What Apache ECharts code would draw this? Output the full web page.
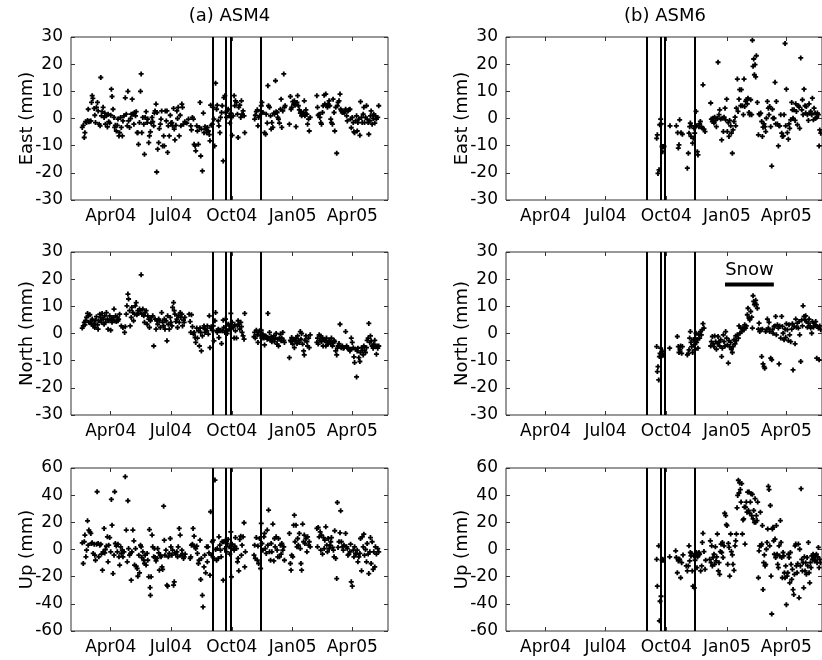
<!DOCTYPE html>
<html>
<head>
<meta charset="utf-8">
<script src="https://cdn.jsdelivr.net/npm/echarts@6/dist/echarts.min.js"></script>
<style>html,body{margin:0;padding:0;background:#fff}#c{width:822px;height:660px}</style>
</head>
<body>
<div id="c"></div>
<script>
// x values are days counted from 1 Jan 2004 (day 0)
const tickDays = [91, 182, 274, 366, 456];
const tickLabels = ['Apr04', 'Jul04', 'Oct04', 'Jan05', 'Apr05'];
const eventDays = [244.5, 265, 272, 317.5];
const snowSpan = [363, 437];
const snowLevel = 18;
const panelTitles = ['(a) ASM4', '(b) ASM6'];
const compNames = ['East (mm)', 'North (mm)', 'Up (mm)'];

const asm4East = [[48,-3.3],[49.5,-2.5],[51,-7.0],[52,-5.2],[53,-1.2],[54.5,-1.5],[56,-0.7],[57,3.4],[58,-1.2],[59.5,-1.0],[61,-0.9],[62,5.9],[63,8.4],[64,7.4],[66,3.7],[67,1.2],[68,-1.5],[69.5,4.1],[71,5.9],[72,2.8],[73.5,-2.1],[75,-2.7],[76,15.1],[77,1.0],[78,2.5],[79.5,4.1],[81,0.4],[82,2.0],[83,-2.1],[84.5,1.0],[86,-3.1],[87,1.6],[88,-1.2],[89.5,-1.7],[91,1.2],[92,10.8],[93,8.1],[94.5,3.4],[96,0.4],[97,-3.3],[98,-2.5],[99.5,-4.6],[101,-2.5],[102,-0.2],[103.5,-6.4],[104.5,-5.2],[106,0.4],[107,-3.3],[108.5,-6.4],[109.5,-0.9],[111,1.0],[113,7.6],[114.5,1.6],[116,-2.7],[117,10.0],[118,-0.9],[119.5,-3.3],[121,0],[122,1.6],[123.5,7.1],[124.5,1.6],[126,-2.1],[127,2.2],[128.5,1.0],[129.5,2.5],[131,-5.2],[132,-5.2],[133,-9.5],[134.5,-1.5],[136,10.0],[137,16.4],[138,-5.2],[139.5,0.4],[141,-2.1],[142,-13.2],[143,0.4],[144.5,2.5],[146,-1.5],[147,-0.2],[148.5,-8.9],[149.5,-6.4],[151,-4.9],[152,-1.7],[153.5,0.4],[154.5,-1.2],[156,-2.7],[157,2.0],[158,2.8],[159.5,5.3],[160.5,-19.7],[161,2.2],[162,-11.3],[163.5,-8.9],[164.5,-3.7],[166,-2.1],[167,-0.2],[168,2.8],[169.5,-10.1],[171,-6.4],[172,-10.1],[173.5,2.8],[175,-0.9],[176,2.8],[177,-12.5],[178,-2.7],[179.5,-6.4],[181,1.2],[182,-1.7],[183.5,-1.5],[184.5,-2.7],[186,3.7],[187,-3.9],[188,-7.9],[189.5,-2.5],[191,2.8],[192,0],[193,4.1],[194.5,-6.4],[196,1.2],[197,-2.7],[198.5,5.3],[199.5,4.1],[201,-2.1],[203,-1.2],[206,-1.7],[208.5,-0.2],[212,-2.7],[213,-4.2],[214.5,0.4],[216,-0.2],[217,-9.5],[218.5,-10.1],[219.5,-11.9],[221,-2.7],[222,-4.6],[223.5,-9.5],[225,-3.3],[226,5.9],[227,-13.8],[228,-3.9],[229.5,-19.3],[231,2.0],[232,-5.2],[233.5,-3.0],[234.5,-3.9],[236,-5.2],[237,-3.3],[238.5,-4.6],[240,-5.9],[241,-8.2],[242,4.9],[243,-2.5],[244.5,-2.1],[246,4.1],[247,-0.2],[248,-10.1],[249.5,13.0],[251,3.4],[252,4.9],[253.5,-0.9],[254.5,-2.7],[256,-5.2],[257,0.4],[258.5,2.2],[259.5,4.7],[261,-15.6],[262,7.7],[263.5,8.4],[264.5,2.2],[266,0.4],[267,2.8],
[268.5,3.4],[270,1.0],[271,-1.7],[272.5,2.0],[273.5,0.4],[274.5,-6.2],[276,1.0],[277.5,8.4],[278.5,4.7],[279.5,6.5],[281,5.9],[282.5,1.6],[283.5,-7.0],[284.5,4.1],[286,4.9],[287.5,0.4],[288.5,6.5],[289.5,1.6],[291,2.8],[292.5,1.0],[293.5,-5.2],[308.5,-0.2],[309.5,1.2],[311,2.5],[312.5,3.2],[313.5,-2.7],[314.5,0.4],[316,1.0],[317.5,2.8],[318.5,4.7],[319.5,5.9],[321,2.2],[323.5,-5.2],[325,-5.8],[326,1.6],[327.5,-1.7],[328.5,12.1],[329.5,4.7],[331,4.1],[332.5,1.0],[333.5,-3.9],[334.5,-1.5],[336,-3.3],[337.5,2.0],[338.5,1.6],[340,13.9],[341,2.5],[342.5,2.2],[343.5,0.4],[344.5,-0.2],[346,-1.7],[347.5,3.4],[348.5,7.1],[349.5,-3.3],[351,2.8],[352.5,16.4],[353.5,4.1],[354.5,4.7],[361,-2.1],[362.5,8.1],[363.5,3.4],[364.5,4.1],[366,6.2],[367.5,5.3],[368.5,6.5],[369.5,4.9],[371,-3.0],[372.5,5.9],[373.5,8.4],[374.5,4.7],[376,3.2],[377.5,2.0],[378.5,2.5],[379.5,1.0],[381,1.6],[382.5,2.2],[383.5,6.5],[384.5,1.0],[386,3.2],[387.5,1.6],[388.5,-2.1],[390,-0.2],[391,-4.6],[392.5,0.4],[402.5,8.4],[403.5,4.1],[404.5,1.2],[406,1.6],[407,0.4],[408.5,-1.5],[409.5,-2.1],[411,2.2],[412,4.7],[413.5,8.6],[414.5,5.3],[416,9.0],[417,4.9],[418.5,4.1],[419.5,5.3],[421,6.5],[422,4.7],[423.5,-0.2],[424.5,-1.5],[426,-2.1],[427,7.1],[428.5,2.2],[429.5,-4.6],[431,4.1],[432.5,-12.8],[433.5,4.7],[434.5,5.9],[436,6.5],[437.5,9.0],[438.5,3.4],[439.5,2.8],[441,2.2],[443.5,2.2],[445,2.5],[446,3.4],[447.5,1.0],[448.5,-0.9],[449.5,2.8],[451,3.2],[452.5,3.4],[453.5,-0.2],[454.5,-3.4],[456,0.4],[457.5,-1.5],[458.5,-4.9],[459.5,-5.2],[461,-0.9],[462.5,1.0],[463.5,-4.6],[464.5,-1.5],[466,-0.2],[467.5,-6.2],[468.5,6.2],[470,0.4],[471,-1.5],[472.5,1.6],[473.5,4.1],[474.5,-1.5],[476,0.4],[477.5,4.7],[478.5,-0.2],[480,-1.5],[481,-5.8],[482.5,-0.9],[483.5,1.0],[484.5,2.8],[486,-2.1],[487.5,0],[488.5,1.6],[490,-1.7],[491,1.0],[492.5,-0.2],[494.5,0.4],[496,4.7]];

const asm4North = [[48,2.0],[49.5,2.8],[51,4.1],[52,3.2],[53,4.7],[54.5,5.9],[56,7.4],[57,6.5],[58,4.1],[59.5,6.9],[61,4.4],[62,3.4],[63,5.3],[64.5,2.8],[66,3.7],[67,2.2],[68,4.9],[69.5,6.2],[71,3.2],[72,1.6],[73,4.7],[74.5,7.1],[76,5.9],[77,4.1],[78,7.4],[79.5,5.3],[81,3.4],[82,6.5],[83,4.1],[84.5,7.7],[86,5.3],[87,1.6],[88,4.7],[89.5,6.5],[91,1.2],[92,5.3],[93,4.1],[94.5,5.9],[96,9.0],[97,4.7],[98.5,6.5],[99.5,4.4],[101,5.9],[102,4.7],[103,5.3],[104.5,7.1],[107,2.8],[109.5,2.2],[112,0.4],[113,2.5],[114.5,7.1],[115.5,10.2],[117,14.5],[118,12.7],[119.5,8.4],[120.5,2.8],[122,5.9],[123,9.6],[124.5,7.7],[125.5,4.7],[127,7.1],[128,10.2],[129.5,11.4],[130.5,6.9],[132,8.4],[133,7.4],[134.5,9.0],[136,8.4],[137,21.6],[138,7.1],[139.5,9.0],[141,6.5],[142,4.1],[143,7.7],[144.5,8.4],[146,3.4],[147,6.5],[148.5,5.3],[149.5,2.2],[151,4.7],[152,5.9],[154.5,6.5],[156,-4.6],[158,5.3],[159.5,1.6],[161,4.7],[162,3.4],[163.5,5.3],[164.5,4.7],[166,2.2],[168,7.7],[169.5,4.1],[171,2.8],[172,5.3],[173,1.6],[174.5,4.7],[176,-2.7],[177,6.5],[178,3.4],[179.5,1.6],[181,5.9],[182,4.1],[183.5,2.8],[184.5,9.6],[186,11.4],[187,8.4],[188,7.1],[189.5,4.4],[191,5.3],[192,2.2],[193,6.5],[194.5,4.1],[196,7.7],[197,5.9],[198.5,7.1],[199.5,2.8],[201,4.9],[202,4.1],[203,5.9],[209.5,7.1],[211,4.4],[212,0.4],[213,6.9],[214.5,2.5],[216,-0.2],[217,0.4],[218.5,-1.5],[219.5,-3.3],[221,2.0],[222,-1.7],[223.5,1.0],[225,-4.6],[226,2.0],[227,0.4],[228,-6.4],[229.5,-0.9],[231,2.0],[232,2.8],[233.5,0.4],[234.5,1.6],[236,1.0],[237,2.8],[238.5,-0.2],[240,6.5],[241,-5.2],[242,2.0],[243,2.5],[244.5,1.2],[246,2.8],[247,-2.7],[248.5,4.7],[249.5,7.7],[251,1.0],[252,0.4],[253.5,1.6],[254.5,-1.5],[256,1.2],[257,1.0],[258.5,-3.7],[259.5,1.0],[261,4.9],[262,2.2],[263.5,0.4],[264.5,5.3],[266,1.0],[267,0],
[268.5,3.4],[270,1.6],[271,2.8],[272.5,7.4],[273.5,2.0],[274.5,4.1],[276,2.2],[277.5,-1.7],[278.5,3.2],[279.5,1.0],[281,-1.7],[282.5,2.8],[283.5,4.7],[284.5,3.4],[286,1.6],[287.5,4.1],[288.5,2.5],[289.5,0.4],[291,-0.9],[292.5,-2.1],[293.5,7.4],[307.5,-1.2],[308.5,0.4],[309.5,-1.7],[311,1.2],[312.5,-0.5],[313.5,-3.3],[314.5,0.4],[316,1.0],[317.5,-0.9],[318.5,1.2],[319.5,-1.7],[321,-0.2],[322.5,-1.7],[323.5,-4.2],[325,-0.9],[326,-1.2],[327.5,-2.1],[328.5,7.4],[329.5,-1.7],[331,0.4],[332.5,-2.5],[333.5,-1.2],[334.5,-3.0],[336,-2.1],[337.5,-0.9],[338.5,-3.0],[340,-1.7],[341,0],[342.5,-3.9],[343.5,-2.1],[344.5,-4.6],[346,-1.7],[347.5,-0.2],[348.5,-2.7],[349.5,-1.7],[351,0.4],[352.5,-2.5],[353.5,-3.3],[361,-8.9],[362.5,-2.5],[363.5,-3.0],[364.5,-1.5],[366,-3.9],[367.5,-2.1],[368.5,-5.2],[369.5,-2.7],[371,-1.7],[372.5,-3.7],[373.5,-0.9],[374.5,-2.5],[376,-3.3],[377.5,0.7],[378.5,-2.1],[379.5,0],[381,-3.9],[382.5,-6.4],[383.5,-7.9],[384.5,-2.5],[386,-0.9],[387.5,-3.0],[388.5,-4.6],[390,-1.7],[391,-5.2],[392.5,-0.5],[402.5,-3.3],[403.5,-1.7],[404.5,-3.9],[406,-0.5],[407,-2.5],[408.5,-0.9],[409.5,-3.0],[411,-1.7],[412,-4.6],[413.5,-2.1],[414.5,-2.7],[416,-4.6],[417,-1.7],[418.5,-3.3],[419.5,-3.9],[421,-2.5],[422,-3.0],[423.5,-3.7],[424.5,-1.7],[426,-4.6],[427,-3.3],[428.5,-2.5],[429.5,-3.0],[431,-6.4],[432.5,-7.9],[433.5,-5.4],[434.5,-4.6],[436,-3.7],[437.5,3.4],[438.5,-4.9],[439.5,-5.2],[441,-4.6],[442.5,-5.4],[443.5,-5.2],[446,0.7],[447.5,-4.6],[448.5,-5.2],[449.5,-5.4],[451,-5.8],[452.5,-6.4],[453.5,-5.8],[454.5,-1.7],[456,-3.3],[457.5,-5.2],[458.5,-8.6],[459.5,-10.7],[461,-5.8],[462.5,-16.0],[463.5,-6.4],[464.5,-5.4],[466,-8.9],[467.5,-10.3],[468.5,-7.0],[470,-5.2],[471,-6.2],[472.5,-7.9],[473.5,-4.6],[474.5,-6.2],[476,-7.0],[477.5,-5.2],[478.5,-2.5],[480,-1.7],[481,3.7],[482.5,-3.3],[483.5,-0.9],[484.5,-2.7],[486,-4.6],[487.5,-5.4],[488.5,-3.9],[490,-2.5],[491,-4.9],[492.5,-7.6],[493.5,-4.6],[494.5,-5.4],[496,-4.6]];

const asm4Up = [[48,4.9],[49.5,-10.3],[51,5.7],[52,10.6],[53.5,-5.4],[54.5,-0.5],[56,21.1],[57,3.2],[58,14.3],[59.5,13.0],[61,11.8],[62,4.4],[63,4.9],[64.5,-2.9],[66,3.9],[67,-4.2],[68,-7.9],[69.5,3.9],[70.5,42.5],[72,4.4],[73,-5.4],[74.5,3.2],[76,3.9],[77,-3.4],[78.5,-15.2],[79.5,-1.7],[81,15.5],[82,-2.5],[83,0],[84.5,2.5],[86,9.3],[87,-9.1],[88,3.2],[89.5,8.8],[91,-1.7],[92,36.9],[93,17.9],[94.5,-17.7],[96,-4.2],[97,42.5],[98,4.4],[99.5,2.5],[101,-1.7],[102,3.9],[103.5,-5.4],[104.5,-11.5],[106,2.0],[107,-2.9],[108.5,-0.5],[109.5,-5.4],[111,-1.7],[113,53.6],[114.5,14.3],[116,-9.1],[117,35.9],[118,0.7],[119.5,-4.2],[121,-2.9],[122,-22.6],[123,-1.7],[124.5,14.3],[126,6.4],[127,-11.5],[128.5,0.7],[129.5,-12.3],[131,-14.0],[132,-19.7],[133.5,-4.2],[134.5,-17.2],[136,3.2],[137,2.0],[138,-5.9],[139.5,-1.7],[141,-7.9],[142,-10.3],[143,-4.2],[144.5,-11.5],[146,-2.9],[147,-7.9],[148.5,-20.1],[149.5,14.7],[150.5,-28.0],[151,-33.7],[152,-20.1],[153.5,10.6],[154.5,2.0],[156,-5.4],[157,0.7],[158,-5.9],[159.5,-8.4],[161,-6.6],[162,0.7],[163.5,-2.5],[164.5,-15.2],[166,-4.2],[167,-5.4],[168.5,-12.8],[169.5,-14.7],[171,31.9],[172,6.9],[173,-4.2],[174.5,-0.5],[176,-26.3],[177,-27.0],[178,-5.4],[179.5,-2.9],[181,8.1],[182,2.0],[183.5,-4.2],[184.5,-0.5],[186,-26.3],[187,-23.8],[188,-2.5],[189.5,-3.4],[191,-1.7],[192,-5.4],[193,2.0],[194.5,15.5],[196,10.6],[197,-4.2],[198.5,-0.5],[199.5,-3.4],[201,-6.6],[202,-5.4],[203.5,-3.4],[211,-6.6],[212,-5.4],[213,3.2],[214.5,3.9],[215.5,15.5],[217,9.8],[218,2.0],[219.5,0.7],[221,2.5],[222,-2.9],[223.5,-10.3],[224.5,-7.9],[226,6.9],[227,-22.1],[228,-6.6],[229.5,-33.7],[230.5,-42.3],[232,-12.8],[233,-4.2],[234.5,-17.2],[236,2.0],[237,-9.1],[238,2.0],[239.5,-2.5],[241,-18.9],[242,27.8],[243,-4.2],[244.5,5.7],[246,6.9],[247,-6.6],[248.5,51.1],[249.5,0],[251,-7.9],[252,0.7],[253.5,-6.6],[254.5,9.3],[256,3.2],[257,-0.5],[258,-5.4],[259.5,5.7],[261,-22.6],[262,5.7],[263.5,0.7],[264.5,6.9],[266,-1.7],[267,4.4],
[268.5,7.4],[270,2.0],[271,-3.4],[272.5,13.0],[273.5,-20.1],[274.5,3.9],[276,0.7],[277.5,-0.5],[278.5,2.5],[279.5,8.8],[281,0.7],[282.5,-9.1],[283.5,-6.6],[284.5,-15.7],[286,7.4],[287.5,9.8],[288.5,-4.2],[289.5,3.2],[291,9.3],[292.5,19.7],[293.5,-12.8],[294.5,-1.7],[307.5,-4.2],[308.5,3.2],[309.5,-6.6],[311,8.8],[312.5,-7.9],[313.5,2.5],[314.5,-10.3],[316,8.1],[317.5,-14.0],[318.5,19.2],[319.5,4.4],[321,-0.5],[322.5,9.3],[323.5,11.8],[324.5,0.7],[326,-2.9],[327.5,14.3],[328.5,3.2],[329.5,29.0],[331,-1.7],[332.5,-7.9],[333.5,4.4],[334.5,-1.7],[336,18.7],[337.5,-8.4],[338.5,8.1],[339.5,2.0],[341,9.3],[342.5,-0.5],[343.5,-5.4],[344.5,8.1],[346,-5.4],[347.5,3.2],[348.5,-3.4],[349.5,4.4],[351,-0.5],[352.5,2.0],[353.5,-7.9],[361,11.8],[362.5,-10.3],[363.5,-15.2],[364.5,-4.2],[366,-5.4],[367.5,17.9],[368.5,25.3],[369.5,5.7],[371,17.9],[372.5,2.0],[373.5,8.1],[374.5,3.2],[376,11.8],[377.5,0.7],[378.5,-10.3],[379.5,-15.2],[381,18.7],[382.5,5.7],[383.5,10.6],[384.5,4.4],[386,8.1],[387.5,-1.7],[388.5,9.3],[390,3.2],[391,5.7],[392.5,2.0],[402.5,15.5],[403.5,2.0],[404.5,16.2],[406,9.3],[407.5,13.0],[408.5,-0.5],[409.5,10.6],[411,-3.4],[412.5,8.8],[413.5,0.7],[414.5,6.9],[416,16.7],[417.5,3.2],[418.5,-1.7],[419.5,8.1],[421,0.7],[422.5,3.2],[423.5,5.7],[424.5,8.8],[426,1.5],[427.5,-0.5],[428.5,-5.4],[429.5,13.8],[431,-6.6],[432.5,-21.4],[433.5,34.6],[434.5,1.5],[436,5.7],[437.5,12.3],[438.5,28.5],[439.5,5.7],[441,2.0],[442.5,-0.5],[443.5,3.2],[446,11.8],[447.5,2.0],[448.5,0.7],[449.5,-4.2],[451,-3.4],[452.5,-1.7],[453.5,3.9],[454.5,-23.8],[456,-27.0],[457.5,-0.5],[458.5,-5.4],[459.5,2.0],[461,-2.9],[462.5,-3.4],[463.5,-0.5],[464.5,-9.1],[466,-5.4],[467.5,-2.9],[468.5,8.1],[470,-15.7],[471,9.3],[472.5,2.0],[473.5,11.3],[474.5,-4.2],[476,0],[477.5,-9.1],[478.5,4.4],[480,-3.4],[481,-17.7],[482.5,-1.7],[483.5,8.8],[484.5,-10.3],[486,5.7],[487.5,-14.7],[488.5,-1.7],[490,-12.8],[491,2.0],[492.5,-3.4],[494.5,0.7],[496,-1.7]];

const asm6East = [[259.4,-7.3],[260.4,-6.0],[261.4,-20.2],[263,-18.9],[264,-2.3],[265.4,-0.2],[266.4,-2.0],[267.5,-10.3],[268.5,-12.2],[269.5,-10.3],[270.5,-10.3],[279.6,-2.7],[289.2,-2.7],[291.2,-5.2],[292.2,-10.9],[293.2,-9.7],[294.2,-0.5],[296.3,-5.2],[298.3,-5.8],[305.9,-18.3],[307.4,-12.8],[308.4,-5.4],[309.4,-3.0],[310.4,-1.7],[311.4,-6.6],[312.4,-2.7],[313.9,-9.1],[314.9,-7.3],[316,-3.6],[317,-5.4],[318,-2.7],[319,2.6],[320,-2.7],[321,-12.2],[322,-13.4],[323.5,-3.0],[324.5,-2.0],[325.6,-1.1],[327.1,-3.0],[328.6,-3.6],[329.6,12.4],[331.1,-3.9],[332.7,-4.8],[341.3,5.7],[342.3,-0.2],[343.8,-1.1],[344.8,0.1],[346.3,-1.7],[347.3,0.5],[348.8,-0.7],[349.9,-3.0],[351.4,0.1],[352.4,20.7],[353.9,1.4],[354.9,3.2],[356.4,-0.2],[357.9,-7.9],[358.9,0.1],[360.5,-4.8],[361.5,0.5],[363,3.8],[364,-0.5],[365.5,7.1],[366.5,-4.8],[368,-1.5],[369,-6.6],[370,-0.7],[371.6,-2.7],[372.6,-5.4],[374.1,-12.8],[375.1,-4.2],[376.6,-1.1],[378.2,0.5],[379.2,-2.7],[380.2,3.8],[381.7,14.5],[382.7,2.6],[384.2,7.1],[385.2,10.6],[386.8,4.7],[387.8,10.6],[389.3,4.7],[390.8,1.4],[391.8,14.5],[392.8,4.4],[394.3,6.3],[395.3,6.9],[396.8,5.4],[397.8,7.5],[399.4,2.2],[400.4,1.4],[401.9,6.9],[403.4,1.4],[404.5,28.8],[405.5,19.2],[406.5,21.9],[407.5,16.1],[408.5,19.8],[409.5,15.3],[410.5,23.1],[412,5.9],[413.6,-6.0],[414.6,1.7],[415.6,1.4],[417.1,2.0],[418.6,-1.1],[419.6,-6.6],[420.6,-3.2],[422.1,-2.0],[423.7,-3.0],[424.7,-4.8],[425.7,0.1],[427.2,6.3],[428.7,3.8],[429.7,1.4],[430.7,4.4],[432.3,-3.0],[433.8,-17.5],[434.8,3.4],[435.8,0.1],[437.3,0.1],[438.8,13.3],[439.8,-2.0],[440.8,6.3],[442.4,-2.0],[443.9,-10.1],[444.9,-2.7],[445.9,-2.7],[447.4,1.4],[448.9,-5.4],[449.9,-6.6],[451.5,-6.4],[452.5,1.4],[454,27.6],[455,-2.7],[456,10.8],[457.5,-5.2],[459,-7.6],[460,-2.0],[461,-3.6],[462.6,-0.5],[464.1,5.9],[465.1,3.2],[466.1,0.1],[467.6,3.2],[469.2,-0.7],[470.2,5.4],[471.2,2.6],[472.7,-2.3],[474.2,4.7],[475.2,4.2],[476.2,-3.6],[477.8,22.3],[479.3,3.2],[480.3,6.9],[481.3,1.4],[482.8,10.8],[484.3,4.7],[485.3,2.0],[486.3,4.4],[487.9,1.4],[489.4,-0.7],[490.4,5.4],[491.9,2.0],[492.9,2.6],[494.4,1.4],[495.4,7.5],[497,-0.5],[498,3.8],[499.5,2.0],[500.5,0.1],[502,0.5],[503,2.0],[504.5,1.4],[505.6,-10.1],[506.6,-4.2],[508.1,-5.4]];

const asm6North = [[259.4,-4.8],[260.4,-14.0],[261.4,-12.2],[262.5,-17.1],[263.5,-8.5],[264.5,-7.3],[265.4,-5.4],[266.4,-8.5],[267.5,-7.9],[268.5,-6.6],[269.5,-7.9],[279.1,-5.4],[290.7,-1.1],[292.2,-4.8],[293.2,-7.0],[294.7,-6.0],[295.7,-4.6],[297.3,-7.3],[298.3,-4.8],[305.9,-7.9],[307.4,-7.3],[308.4,-6.0],[309.4,-1.7],[310.4,0.7],[311.4,-3.3],[312.4,-4.8],[313.9,-7.0],[314.9,-2.3],[316,-4.2],[317,-6.0],[318,-1.7],[319,0.1],[320,-3.3],[321,-2.3],[322,-5.4],[323.5,-0.5],[324.5,-1.7],[325.6,0.7],[327.1,-0.5],[328.6,1.4],[329.6,3.6],[331.1,2.0],[341.3,-4.6],[342.3,-3.0],[343.8,-1.1],[344.8,-3.8],[346.3,-4.8],[347.3,-0.9],[348.8,-3.0],[349.9,-5.8],[351.4,-3.6],[352.4,-1.1],[353.9,-3.3],[354.9,-4.6],[356.4,-2.3],[357.9,-8.5],[358.9,-5.4],[360.5,-0.5],[361.5,-3.0],[363,-4.6],[364,0.7],[365.5,-1.7],[366.5,-4.2],[368,-10.9],[369,-2.6],[370,-4.8],[371.6,-3.3],[372.6,-5.8],[374.1,-7.0],[375.1,-4.8],[376.6,-2.3],[378.2,-3.8],[379.2,-0.9],[380.2,-2.6],[381.7,-0.5],[383.2,-1.7],[384.2,2.8],[385.7,0.1],[386.8,2.0],[388.3,0.7],[389.3,1.6],[390.3,2.0],[391.8,1.4],[392.8,3.2],[394.3,2.0],[395.3,2.8],[396.8,6.9],[397.8,9.3],[399.4,5.7],[400.4,5.0],[401.9,8.1],[403.4,6.0],[404.5,2.0],[405.5,13.9],[406.5,11.8],[407.5,10.6],[408.5,11.2],[409.5,12.2],[410.5,10.6],[412,9.3],[413.6,1.6],[414.6,3.8],[415.6,0.7],[417.1,1.4],[418.6,-8.5],[419.6,1.6],[420.6,-11.2],[422.1,-12.2],[423.2,-12.8],[424.7,0.7],[425.7,1.4],[427.2,5.3],[428.7,2.0],[429.7,4.1],[430.7,0.7],[432.3,-9.1],[433.8,-9.7],[434.8,1.4],[435.8,0.1],[437.3,2.6],[438.8,2.8],[439.8,6.3],[440.8,-0.5],[442.4,3.2],[443.9,2.0],[444.9,-11.2],[445.9,2.8],[447.4,-1.7],[448.9,6.3],[449.9,2.6],[451,0.1],[452.5,-2.3],[454,1.6],[455,-1.4],[456,3.6],[457.5,1.4],[459,-2.6],[460,3.2],[461,-0.5],[462.6,-3.0],[464.1,1.6],[465.1,3.6],[466.1,-13.4],[467.6,2.6],[469.2,-3.8],[470.2,5.3],[471.2,2.3],[472.7,3.8],[474.2,2.0],[475.2,4.4],[476.2,-0.5],[477.8,-10.3],[479.3,5.0],[480.3,2.8],[481.3,10.2],[482.8,6.3],[484.3,5.0],[485.3,6.5],[486.3,4.4],[487.9,2.3],[489.4,3.8],[490.4,5.3],[491.9,2.8],[492.9,2.0],[494.4,0.1],[495.4,4.4],[497,2.3],[498,3.8],[499.5,3.2],[500.5,4.4],[502,-9.1],[503,2.6],[504.5,2.0],[505.6,-9.7],[506.6,2.8],[508.1,1.4]];

const asm6Up = [[259.4,-7.2],[260.4,-27.0],[262.5,2.7],[263.5,-52.5],[264.5,-38.1],[266,-34.4],[267.5,-7.9],[268.5,-7.2],[269.5,-7.9],[279.1,-5.4],[288.2,-1.0],[289.2,-5.9],[290.7,-17.1],[292.2,-8.4],[293.2,-7.2],[294.2,-7.2],[295.7,-20.8],[297.3,-9.7],[299.3,-4.0],[304.3,-12.1],[305.9,-15.8],[307.4,-12.1],[308.4,2.7],[309.4,-8.4],[310.4,-2.2],[311.4,-4.7],[312.4,-3.0],[313.4,-15.8],[314.4,-27.0],[315.5,-4.7],[316.5,-28.2],[317.5,-7.9],[318.5,-4.7],[319.5,-2.2],[320.5,-13.4],[321.5,-5.4],[322.5,-4.0],[323.5,-2.2],[324.5,-3.5],[326.1,-15.8],[327.6,-12.1],[328.6,5.2],[329.6,11.9],[331.1,-1.5],[332.7,-14.6],[333.7,-7.9],[339.8,-7.2],[340.8,6.4],[341.8,-9.7],[342.8,2.7],[343.8,-12.1],[344.8,-5.9],[346.3,-3.5],[347.3,-10.9],[348.4,2.0],[349.4,-8.4],[350.4,-5.4],[351.4,11.4],[352.9,-15.8],[353.9,-9.7],[354.9,-18.3],[355.9,-1.5],[357,4.0],[358,-2.2],[359,5.2],[360,-5.9],[361.5,2.7],[362.5,26.7],[364,25.0],[365,18.3],[366,17.6],[367.1,-10.9],[368.1,4.5],[369.1,1.5],[370.1,-19.6],[371.6,11.4],[372.6,-1.5],[374.1,-4.0],[375.1,-10.9],[376.6,-15.3],[378.2,2.7],[379.2,6.4],[380.2,11.4],[381.2,30.7],[382.2,39.8],[383.2,51.0],[384.2,41.6],[385.2,49.0],[386.2,44.1],[387.3,34.9],[388.3,48.5],[389.3,11.4],[390.3,21.8],[391.3,22.5],[392.3,31.2],[393.3,4.0],[394.3,31.2],[395.3,34.9],[396.3,27.5],[397.3,42.3],[398.4,28.7],[399.4,42.3],[400.4,26.7],[401.4,34.9],[402.4,41.1],[403.4,25.0],[404.5,40.6],[405.5,22.5],[406.5,28.7],[407.5,20.0],[408.5,37.4],[409.5,20.0],[410.5,25.0],[411.5,21.3],[412.5,34.9],[413.6,-20.8],[414.6,-1.0],[415.6,2.7],[416.6,27.5],[417.6,2.7],[418.6,4.0],[419.6,17.6],[420.6,-29.5],[421.6,-9.7],[422.6,-4.0],[423.7,-12.1],[424.7,-10.9],[425.7,0.2],[426.7,5.2],[427.7,15.1],[428.7,46.5],[429.7,44.1],[430.7,2.7],[431.7,32.4],[432.8,-19.6],[433.8,-47.5],[434.8,15.1],[435.8,16.3],[436.8,6.4],[437.8,-3.5],[438.8,7.7],[439.8,-5.9],[440.8,17.6],[441.9,-3.5],[442.9,-10.9],[443.9,-13.4],[444.9,2.7],[445.9,-4.7],[446.9,21.3],[447.9,5.2],[448.9,-5.9],[449.9,-20.8],[451,-2.2],[452,-4.7],[453,-17.1],[454,-20.8],[455,-12.1],[456,-40.6],[457.1,-19.6],[458.1,-17.1],[459.1,-3.5],[460.1,-5.9],[461.1,-24.5],[462.1,-2.2],[463.1,-10.9],[464.1,-22.0],[465.1,-14.6],[466.1,-29.5],[467.2,-33.2],[468.2,-18.3],[469.2,2.7],[470.2,4.0],[471.2,-12.1],[472.2,-17.1],[473.2,-10.4],[474.2,4.0],[475.2,-35.6],[476.2,0.2],[477.3,-12.1],[478.3,44.8],[479.3,-7.2],[480.3,-15.8],[481.3,-9.7],[482.3,-28.2],[483.3,-5.4],[484.3,-15.8],[485.3,-9.7],[486.3,-18.3],[487.4,-5.9],[488.4,-12.1],[489.4,5.2],[490.4,-17.1],[491.4,-24.5],[492.4,-9.7],[493.4,-13.4],[494.4,-4.7],[495.4,-7.2],[496.5,-3.5],[497.5,-5.9],[498.5,-8.4],[499.5,-4.7],[500.5,-7.9],[501.5,-3.5],[502.5,-9.7],[503.5,-5.4],[504.5,1.5],[505.6,-13.4],[506.6,-7.2],[507.6,-9.7]];

const panels = [[asm4East, asm6East], [asm4North, asm6North], [asm4Up, asm6Up]];
const yRanges = [[-30, 30, 10], [-30, 30, 10], [-60, 60, 20]];

const FONT = 'DejaVu Sans';
const colLeft = [71, 506];
const colWidth = [317, 318];
const rowTop = [37, 252, 468];
const rowH = 163;
const xMin = 31, xMax = 510;
const plus = 'path://M1.6,0H3.4V1.6H5V3.4H3.4V5H1.6V3.4H0V1.6H1.6Z';

const grids = [], xAxes = [], yAxes = [], series = [], graphics = [];
for (let r = 0; r < 3; r++) {
  for (let c = 0; c < 2; c++) {
    const gi = grids.length;
    grids.push({left: colLeft[c], top: rowTop[r], width: colWidth[c], height: rowH,
      show: true, borderColor: '#333', borderWidth: 1, backgroundColor: 'transparent'});
    const tickCommon = {show: true, inside: true, length: 4, customValues: tickDays, lineStyle: {color: '#333'}};
    xAxes.push({gridIndex: gi, type: 'value', min: xMin, max: xMax, position: 'bottom',
      axisLine: {show: false, onZero: false}, splitLine: {show: false}, axisTick: tickCommon,
      axisLabel: {customValues: tickDays, formatter: v => tickLabels[tickDays.indexOf(v)],
        fontSize: 17, color: '#000', margin: 8, fontFamily: FONT}});
    xAxes.push({gridIndex: gi, type: 'value', min: xMin, max: xMax, position: 'top',
      axisLine: {show: false, onZero: false}, splitLine: {show: false}, axisTick: tickCommon,
      axisLabel: {show: false}});
    const [ymin, ymax, yint] = yRanges[r];
    yAxes.push({gridIndex: gi, type: 'value', min: ymin, max: ymax, interval: yint, position: 'left',
      name: compNames[r], nameLocation: 'middle', nameGap: 35, nameMoveOverlap: false,
      nameTextStyle: {fontSize: 18, color: '#000', fontFamily: FONT},
      axisLine: {show: false, onZero: false}, splitLine: {show: false},
      axisTick: {show: true, inside: true, length: 4, lineStyle: {color: '#333'}},
      axisLabel: {fontSize: 17, color: '#000', margin: 8, fontFamily: FONT}});
    yAxes.push({gridIndex: gi, type: 'value', min: ymin, max: ymax, interval: yint, position: 'right',
      axisLine: {show: false, onZero: false}, splitLine: {show: false},
      axisTick: {show: true, inside: true, length: 4, lineStyle: {color: '#333'}},
      axisLabel: {show: false}});
    series.push({type: 'scatter', xAxisIndex: 2 * gi, yAxisIndex: 2 * gi, data: panels[r][c],
      symbol: plus, symbolSize: 5, itemStyle: {color: '#000', opacity: 1}, silent: true, z: 3,
      markLine: {silent: true, symbol: 'none', animation: false, label: {show: false},
        lineStyle: {color: '#000', width: 2, type: 'solid'},
        data: eventDays.map(d => ({xAxis: d}))}});
    if (r === 1 && c === 1) {
      series.push({type: 'line', xAxisIndex: 2 * gi, yAxisIndex: 2 * gi, silent: true,
        data: [[snowSpan[0], snowLevel], [snowSpan[1], snowLevel]], showSymbol: false,
        lineStyle: {color: '#000', width: 4}, z: 4});
      series.push({type: 'scatter', xAxisIndex: 2 * gi, yAxisIndex: 2 * gi, silent: true,
        data: [[(snowSpan[0] + snowSpan[1]) / 2, snowLevel]], symbolSize: 1,
        itemStyle: {color: 'rgba(0,0,0,0)'},
        label: {show: true, formatter: 'Snow', position: 'top', distance: 5,
          fontSize: 18, color: '#000', opacity: 1, fontFamily: FONT}});
    }
  }
}
for (let c = 0; c < 2; c++) {
  graphics.push({type: 'text', x: colLeft[c] + colWidth[c] / 2, y: 16,
    style: {text: panelTitles[c], textAlign: 'center', textVerticalAlign: 'middle',
      font: '18px "' + FONT + '"', fill: '#000'}});
}

const chart = echarts.init(document.getElementById('c'), null, {renderer: 'canvas'});
chart.setOption({animation: false, backgroundColor: '#fff',
  grid: grids, xAxis: xAxes, yAxis: yAxes, series: series, graphic: graphics});
</script>
</body>
</html>
